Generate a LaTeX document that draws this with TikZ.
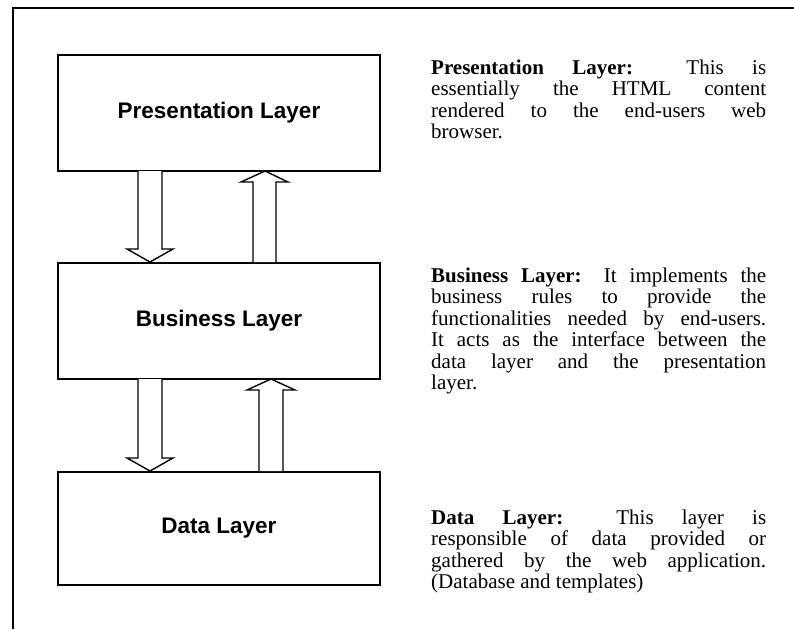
\documentclass[tikz,border=0pt]{standalone}
\usepackage{fontspec}
\setmainfont{Liberation Serif}
\newfontfamily\boxfont{Liberation Sans}
\tolerance=10000
\hbadness=10000
\hyphenpenalty=10000
\exhyphenpenalty=10000
\begin{document}
\begin{tikzpicture}[x=1pt,y=-1pt,line join=miter]
\tikzset{
  layer/.style={draw, line width=2pt, minimum width=322pt, inner sep=0pt,
    font=\boxfont\bfseries\fontsize{22.5}{24}\selectfont},
  blockarrow/.style={draw, line width=1.4pt, fill=white},
  frameline/.style={line width=2.2pt},
  desc/.style={anchor=base west, inner sep=0pt, text width=335pt, align=justify,
    font=\fontsize{21}{21.5}\selectfont}
}
\useasboundingbox (0,0) rectangle (794,629);
\fill[white] (0,0) rectangle (794,629);
\draw[frameline] (13,629) -- (13,8) -- (794,8);

\node[layer, minimum height=116pt] (pres) at (219,112.5) {Presentation Layer};
\node[layer, minimum height=116pt] (bus) at (219,320.5) {Business Layer};
\node[layer, minimum height=113pt] (data) at (219,528) {Data Layer};

% arrows between presentation and business
\draw[blockarrow] (138,171) -- (138,249) -- (127,249) -- (150,262) -- (173,249) -- (162,249) -- (162,171);
\draw[blockarrow] (253,262) -- (253,182) -- (241,182) -- (265,171) -- (288,182) -- (276,182) -- (276,262);
% arrows between business and data
\draw[blockarrow] (138,379) -- (138,458) -- (127,458) -- (150,471) -- (173,458) -- (162,458) -- (162,379);
\draw[blockarrow] (259,471) -- (259,390) -- (247,390) -- (271,379) -- (295,390) -- (283,390) -- (283,471);

\node[desc] (ptext) at (431,74) {\textbf{Presentation Layer:} This is\linebreak
essentially the HTML content\linebreak
rendered to the end-users web\linebreak
browser.};

\node[desc] (btext) at (431,282) {\textbf{Business Layer:} It implements the\linebreak
business rules to provide the\linebreak
functionalities needed by end-users.\linebreak
It acts as the interface between the\linebreak
data layer and the presentation\linebreak
layer.};

\node[desc] (dtext) at (431,524) {\textbf{Data Layer:} This layer is\linebreak
responsible of data provided or\linebreak
gathered by the web application.\linebreak
(Database and templates)};
\end{tikzpicture}
\end{document}
